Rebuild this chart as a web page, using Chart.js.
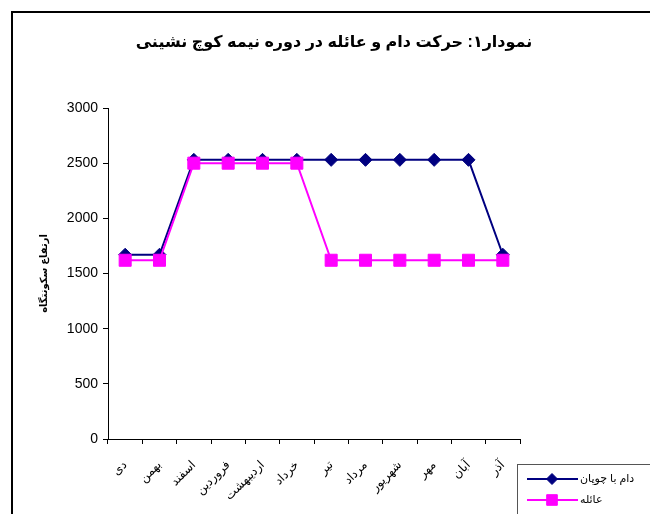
<!DOCTYPE html>
<html lang="fa">
<head>
<meta charset="utf-8">
<script src="https://cdn.jsdelivr.net/npm/chart.js@4"></script>
<style>
  html, body { margin: 0; padding: 0; background: #fff; }
  #wrap { width: 650px; height: 514px; position: relative; }
</style>
</head>
<body>
<div id="wrap"><canvas id="c" width="650" height="514"></canvas></div>
<script>
// Months of the semi-nomadic year (Persian calendar)
const months = ['دی', 'بهمن', 'اسفند', 'فروردین', 'اردیبهشت', 'خرداد', 'تیر', 'مرداد', 'شهریور', 'مهر', 'آبان', 'آذر'];
// Settlement altitude (m) for the herd with the shepherd
const herdWithShepherd = [1670, 1670, 2530, 2530, 2530, 2530, 2530, 2530, 2530, 2530, 2530, 1670];
// Settlement altitude (m) for the family
const family = [1620, 1620, 2500, 2500, 2500, 2500, 1620, 1620, 1620, 1620, 1620, 1620];
// Y axis ticks
const yTicks = [0, 500, 1000, 1500, 2000, 2500, 3000];

const seriesNames = ['دام با چوپان', 'عائله'];
const chartTitle = 'نمودار۱: حرکت دام و عائله در دوره نیمه کوچ نشینی';
const yTitle = 'ارتفاع سکونتگاه';

const FONT = "Arial, 'Liberation Sans', 'DejaVu Sans', sans-serif";

// Frame, title and legend drawn on the canvas
const decorations = {
  id: 'decorations',
  beforeDraw(chart) {
    const ctx = chart.ctx;
    ctx.save();
    ctx.fillStyle = '#fff';
    ctx.fillRect(0, 0, chart.width, chart.height);
    ctx.restore();
  },
  afterDraw(chart) {
    const ctx = chart.ctx;
    ctx.save();
    // outer frame
    ctx.strokeStyle = '#000';
    ctx.lineWidth = 2;
    ctx.strokeRect(12, 12, 800, 800);

    // title
    ctx.fillStyle = '#000';
    ctx.font = 'bold 16px ' + FONT;
    ctx.textAlign = 'center';
    ctx.textBaseline = 'middle';
    ctx.direction = 'rtl';
    ctx.fillText(chartTitle, 334, 43);

    // legend box
    ctx.lineWidth = 1;
    ctx.strokeStyle = '#555';
    ctx.fillStyle = '#fff';
    ctx.fillRect(517.5, 464.5, 200, 80);
    ctx.strokeRect(517.5, 464.5, 200, 80);

    const ds = chart.data.datasets;
    const rows = [479, 500];
    ds.forEach((d, i) => {
      const y = rows[i];
      ctx.strokeStyle = d.borderColor;
      ctx.fillStyle = d.backgroundColor;
      ctx.lineWidth = 2;
      ctx.beginPath();
      ctx.moveTo(527, y);
      ctx.lineTo(578, y);
      ctx.stroke();
      ctx.lineWidth = 1;
      Chart.helpers.drawPoint(ctx, {
        pointStyle: d.pointStyle,
        radius: d.pointRadius - 1,
        borderWidth: 1
      }, 552, y);
      ctx.fillStyle = '#000';
      ctx.font = '11px ' + FONT;
      ctx.direction = 'rtl';
      ctx.textAlign = 'left';
      ctx.textBaseline = 'middle';
      ctx.fillText(d.label, 580, y);
    });
    ctx.restore();
  }
};

new Chart(document.getElementById('c'), {
  type: 'line',
  data: {
    labels: months,
    datasets: [
      {
        label: seriesNames[0],
        data: herdWithShepherd,
        borderColor: '#000080',
        backgroundColor: '#000080',
        borderWidth: 2,
        pointStyle: 'rectRot',
        pointRadius: 6.5,
        pointHoverRadius: 6.5,
        pointBorderWidth: 1,
        tension: 0,
        order: 1
      },
      {
        label: seriesNames[1],
        data: family,
        borderColor: '#ff00ff',
        backgroundColor: '#ff00ff',
        borderWidth: 2,
        pointStyle: 'rect',
        pointRadius: 8.5,
        pointHoverRadius: 8.5,
        pointBorderWidth: 1,
        tension: 0,
        order: 0
      }
    ]
  },
  options: {
    responsive: false,
    animation: false,
    events: [],
    layout: { padding: { left: 12, right: 130, top: 108, bottom: 0 } },
    plugins: {
      legend: { display: false },
      title: { display: false },
      tooltip: { enabled: false }
    },
    scales: {
      x: {
        type: 'category',
        offset: true,
        grid: {
          offset: true,
          drawOnChartArea: false,
          drawTicks: true,
          tickLength: 5,
          color: '#000',
          tickColor: '#000'
        },
        border: { color: '#000', width: 1 },
        ticks: {
          color: '#000',
          font: { family: FONT, size: 12 },
          minRotation: 45,
          maxRotation: 45,
          autoSkip: false,
          padding: 14
        },
        afterFit(scale) { scale.height = 75; }
      },
      y: {
        min: 0,
        max: 3000,
        afterBuildTicks(scale) { scale.ticks = yTicks.map(v => ({ value: v })); },
        grid: {
          drawOnChartArea: false,
          drawTicks: true,
          tickLength: 5,
          color: '#000',
          tickColor: '#000'
        },
        border: { color: '#000', width: 1 },
        ticks: {
          color: '#000',
          font: { family: FONT, size: 14 },
          padding: 5,
          callback: v => String(v)
        },
        title: {
          display: true,
          text: yTitle,
          color: '#000',
          font: { family: FONT, size: 10, weight: 'bold' },
          padding: { top: 26, bottom: 0 }
        },
        afterFit(scale) { scale.width = 96; }
      }
    }
  },
  plugins: [decorations]
});
</script>
</body>
</html>
